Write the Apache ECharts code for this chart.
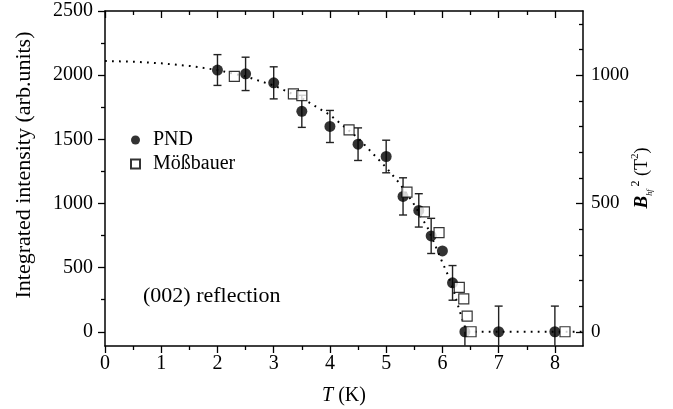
<!DOCTYPE html>
<html>
<head>
<meta charset="utf-8">
<script src="https://cdn.jsdelivr.net/npm/echarts@6/dist/echarts.min.js"></script>
<style>html,body{margin:0;padding:0;background:#fff}#c{width:673px;height:409px}</style>
</head>
<body>
<div id="c"></div>
<script>
// PND integrated intensity (left axis)
const pndT = [2.0, 2.5, 3.0, 3.5, 4.0, 4.5, 5.0, 5.3, 5.58, 5.8, 6.0, 6.18, 6.4, 7.0, 8.0];
const pndI = [2040, 2010, 1940, 1718, 1600, 1462, 1366, 1055, 946, 747, 630, 381, 0, 0, 0];
const pndErrLow  = [120, 130, 125, 125, 125, 127, 127, 145, 130, 137, 0, 135, 200, 200, 200];
const pndErrHigh = [120, 130, 125, 125, 125, 127, 127, 145, 130, 137, 0, 135, 0, 200, 200];
// Mössbauer B_hf^2 (right axis)
const mosT  = [2.3, 3.35, 3.5, 4.34, 5.37, 5.68, 5.94, 6.3, 6.38, 6.44, 6.51, 8.18];
const mosB2 = [995, 927, 920, 787, 544, 467, 386, 173, 128, 61, 0, 0];
// dotted guide curve (left-axis units)
const fitT = [0, 0.5, 1, 1.5, 2, 2.5, 3, 3.5, 4, 4.5, 5, 5.25, 5.5, 5.75, 6, 6.1, 6.2, 6.3, 6.4, 6.45, 8.5];
const fitI = [2110, 2105, 2092, 2072, 2040, 1990, 1920, 1820, 1690, 1510, 1280, 1150, 990, 800, 540, 440, 320, 170, 40, 0, 0];
// ticks
const xTicks = [0, 1, 2, 3, 4, 5, 6, 7, 8];
const xMinor = [0.5, 1.5, 2.5, 3.5, 4.5, 5.5, 6.5, 7.5];
const yTicks = [0, 500, 1000, 1500, 2000, 2500];
const yMinor = [250, 750, 1250, 1750, 2250];
const rTicks = [0, 500, 1000];
const rMinor = [100, 200, 300, 400, 600, 700, 800, 900, 1100, 1200];

const FONT = 'Liberation Serif';
const X_MIN = 0, X_MAX = 8.5, Y_MIN = -111, Y_MAX = 2500, R_MIN = -55.5, R_MAX = 1250;
const plain = v => String(v);

function xAx(pos, ticks, len, inside, showLine, showLabel) {
  return {
    type: 'value', position: pos, min: X_MIN, max: X_MAX, gridIndex: 0,
    axisLine: { show: showLine, onZero: false, lineStyle: { color: '#000', width: 1.5 } },
    axisTick: { show: true, inside: inside, length: len, customValues: ticks, lineStyle: { color: '#000', width: 1.3 } },
    axisLabel: { show: showLabel, customValues: ticks, formatter: plain, color: '#000', fontFamily: FONT, fontSize: 20, margin: 8 },
    splitLine: { show: false }
  };
}
function yAx(pos, mn, mx, ticks, len, inside, showLine, showLabel, margin, fs) {
  return {
    type: 'value', position: pos, min: mn, max: mx, gridIndex: 0,
    axisLine: { show: showLine, onZero: false, lineStyle: { color: '#000', width: 1.5 } },
    axisTick: { show: true, inside: inside, length: len, customValues: ticks, lineStyle: { color: '#000', width: 1.3 } },
    axisLabel: { show: showLabel, customValues: ticks, formatter: plain, color: '#000', fontFamily: FONT, fontSize: fs, margin: margin },
    splitLine: { show: false }
  };
}

const chart = echarts.init(document.getElementById('c'));
chart.setOption({
  animation: false,
  backgroundColor: '#fff',
  grid: { left: 105, right: 90, top: 11, bottom: 63, containLabel: false },
  xAxis: [
    xAx('bottom', xTicks, 7, false, true, true),
    xAx('bottom', xMinor, 4, false, false, false),
    xAx('top', xTicks, 7, true, true, false),
    xAx('top', xMinor, 4, true, false, false)
  ],
  yAxis: [
    yAx('left', Y_MIN, Y_MAX, yTicks, 7, false, true, true, 12, 20),
    yAx('left', Y_MIN, Y_MAX, yMinor, 4, false, false, false, 12, 20),
    yAx('right', R_MIN, R_MAX, rTicks, 7, true, true, true, 8, 19),
    yAx('right', R_MIN, R_MAX, rMinor, 4, true, false, false, 8, 19)
  ],
  legend: {
    orient: 'vertical', left: 130, top: 130, itemWidth: 9, itemHeight: 9, itemGap: 4, padding: 0,
    textStyle: { fontFamily: FONT, fontSize: 20, color: '#000', padding: [0, 0, 0, 8] },
    data: [{ name: 'PND', icon: 'circle' }, { name: 'Mößbauer', icon: 'rect' }]
  },
  graphic: [
    { type: 'text', x: 24, y: 165, rotation: Math.PI / 2,
      style: { text: 'Integrated intensity (arb.units)', font: '22px "Liberation Serif"', fill: '#000', align: 'center', verticalAlign: 'middle' } },
    { type: 'text', x: 344, y: 396,
      style: { text: '{i|T} (K)', font: '20px "Liberation Serif"', fill: '#000', align: 'center', verticalAlign: 'middle',
        rich: { i: { fontStyle: 'italic', fontFamily: FONT, fontSize: 20 } } } },
    { type: 'text', x: 642, y: 178, rotation: Math.PI / 2,
      style: { text: '{b|B}{s|hf}{p|2}{n| (T}{q|2}{n|)}', fill: '#000', align: 'center', verticalAlign: 'middle',
        rich: {
          b: { fontStyle: 'italic', fontWeight: 'bold', fontFamily: FONT, fontSize: 19, lineHeight: 24, verticalAlign: 'middle' },
          s: { fontStyle: 'italic', fontFamily: FONT, fontSize: 8, lineHeight: 24, verticalAlign: 'bottom', padding: [0, 3, 0, 0] },
          p: { fontFamily: FONT, fontSize: 12, lineHeight: 24, verticalAlign: 'top' },
          n: { fontFamily: FONT, fontSize: 18, lineHeight: 24, verticalAlign: 'middle' },
          q: { fontFamily: FONT, fontSize: 11, lineHeight: 24, verticalAlign: 'top' }
        } } },
    { type: 'text', x: 143, y: 296,
      style: { text: '(002) reflection', font: '22px "Liberation Serif"', fill: '#000', align: 'left', verticalAlign: 'middle' } }
  ],
  series: [
    {
      name: 'fit', type: 'line', xAxisIndex: 0, yAxisIndex: 0, showSymbol: false, smooth: false, z: 1,
      data: fitT.map((t, i) => [t, fitI[i]]),
      lineStyle: { color: '#000', width: 2, type: [1.8, 5.2] }
    },
    {
      name: 'err', type: 'custom', xAxisIndex: 0, yAxisIndex: 0, z: 2,
      data: pndT.map((t, i) => [t, pndI[i], pndErrLow[i], pndErrHigh[i]]),
      encode: { x: 0, y: 1 },
      renderItem: function (params, api) {
        const x = api.value(0), y = api.value(1), lo = api.value(2), hi = api.value(3);
        const cs = params.coordSys;
        const bottom = cs.y + cs.height;
        const p = api.coord([x, y]);
        const pHi = api.coord([x, y + hi]);
        const pLo = api.coord([x, y - lo]);
        const yBot = Math.min(pLo[1], bottom);
        const st = { stroke: '#222', lineWidth: 1.4 };
        const ch = [{ type: 'line', shape: { x1: p[0], y1: pHi[1], x2: p[0], y2: yBot }, style: st }];
        const cw = 4;
        if (hi > 0) ch.push({ type: 'line', shape: { x1: p[0] - cw, y1: pHi[1], x2: p[0] + cw, y2: pHi[1] }, style: st });
        if (lo > 0 && pLo[1] <= bottom) ch.push({ type: 'line', shape: { x1: p[0] - cw, y1: pLo[1], x2: p[0] + cw, y2: pLo[1] }, style: st });
        return { type: 'group', children: ch };
      }
    },
    {
      name: 'PND', type: 'scatter', xAxisIndex: 0, yAxisIndex: 0, z: 3,
      symbol: 'circle', symbolSize: 11,
      itemStyle: { color: '#000' },
      data: pndT.map((t, i) => [t, pndI[i]])
    },
    {
      name: 'Mößbauer', type: 'scatter', xAxisIndex: 0, yAxisIndex: 2, z: 4,
      symbol: 'rect', symbolSize: 10,
      itemStyle: { color: '#fff', borderColor: '#000', borderWidth: 1.2 },
      data: mosT.map((t, i) => [t, mosB2[i]])
    }
  ]
});
</script>
</body>
</html>
